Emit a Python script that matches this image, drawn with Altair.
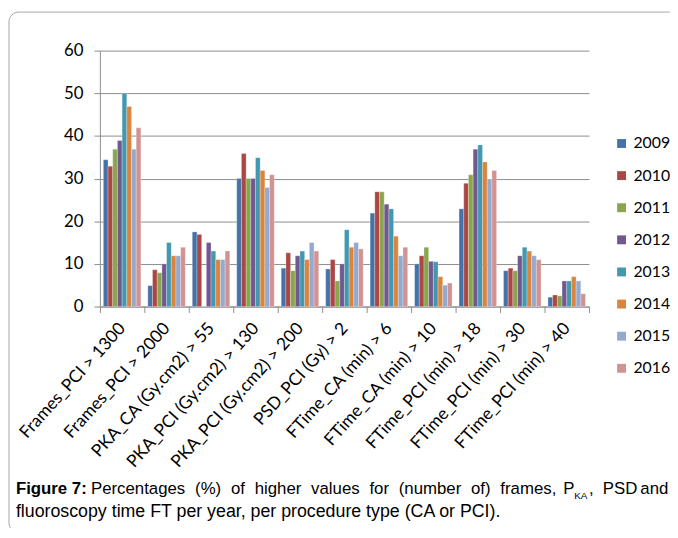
import altair as alt
import pandas as pd

categories = [
    "Frames_PCI > 1300", "Frames_PCI > 2000", "PKA_CA (Gy.cm2) > 55",
    "PKA_PCI (Gy.cm2) > 130", "PKA_PCI (Gy.cm2) > 200", "PSD_PCI (Gy) > 2",
    "FTime_CA (min) > 6", "FTime_CA (min) > 10", "FTime_PCI (min) > 18",
    "FTime_PCI (min) > 30", "FTime_PCI (min) > 40",
]
years = ["2009", "2010", "2011", "2012", "2013", "2014", "2015", "2016"]

v2009 = [34.4, 4.9, 17.5, 30.0, 9.0, 8.8, 21.9, 10.0, 22.9, 8.4, 2.2]
v2010 = [32.9, 8.6, 16.9, 35.9, 12.6, 11.0, 26.9, 11.9, 28.9, 9.0, 2.7]
v2011 = [36.9, 7.9, 0.0, 30.0, 8.4, 6.0, 26.9, 13.9, 30.9, 8.4, 2.5]
v2012 = [38.9, 10.0, 15.0, 30.0, 11.9, 10.0, 24.0, 10.6, 36.9, 11.9, 6.0]
v2013 = [50.0, 15.0, 13.0, 34.9, 13.0, 18.0, 22.9, 10.5, 37.9, 13.9, 6.0]
v2014 = [46.9, 11.9, 11.0, 31.9, 11.0, 13.9, 16.5, 7.0, 33.9, 13.0, 7.0]
v2015 = [36.9, 11.9, 11.0, 27.9, 15.0, 15.0, 11.9, 5.0, 29.9, 11.9, 6.0]
v2016 = [41.9, 13.9, 13.0, 30.9, 13.0, 13.5, 13.9, 5.5, 31.9, 11.0, 3.0]
series = [v2009, v2010, v2011, v2012, v2013, v2014, v2015, v2016]

colors = ["#4572A7", "#AA4643", "#89A54E", "#71588F",
          "#4198AF", "#DB843D", "#93A9CF", "#D19392"]

caption_bold = "Figure 7:"
caption_words1 = ["Percentages", "(%)", "of", "higher", "values", "for",
                  "(number", "of)", "frames,"]
caption_p = "P"
caption_sub = "KA"
caption_tail = [",", "PSD", "and"]
caption_line2 = "fluoroscopy time FT per year, per procedure type (CA or PCI)."

rows = []
for y, vals in zip(years, series):
    for c, v in zip(categories, vals):
        rows.append({"cat": c, "year": y, "value": v})
df = pd.DataFrame(rows)

W, H = 495, 259
GRAY = "#8c8c8c"
OX, OY = 101, 48  # page position of the plot origin (8px margin + padding)

# Arial / Liberation Sans advance widths (1/1000 em) for justifying line 1
AW = {"P": 667, "e": 556, "r": 333, "c": 500, "n": 556, "t": 278, "a": 556,
      "g": 556, "s": 500, "(": 333, "%": 889, ")": 333, "o": 556, "f": 278,
      "h": 556, "i": 222, "l": 222, "u": 556, "v": 500, "b": 556, "m": 833,
      ",": 278, " ": 278}


def width(word, size):
    return sum(AW.get(ch, 556) for ch in word) * size / 1000.0


def justify(words, x0, x1, size):
    total = sum(width(w, size) for w in words)
    gap = (x1 - x0 - total) / (len(words) - 1)
    xs, x = [], x0
    for w in words:
        xs.append(x)
        x += width(w, size) + gap
    return xs


bars = alt.Chart(df).mark_bar(stroke="white", strokeWidth=0.6, strokeOpacity=0.45).encode(
    x=alt.X("cat:N", sort=categories,
            scale=alt.Scale(paddingInner=0, paddingOuter=0),
            axis=alt.Axis(title=None, labelAngle=-48, labelAlign="right",
                          labelBaseline="middle", tickBand="extent", ticks=True,
                          tickSize=6, labelFont="Lato", labelFontSize=17.5,
                          labelColor="black", domainColor=GRAY, tickColor=GRAY,
                          labelPadding=13, grid=False, labelLimit=300)),
    xOffset=alt.XOffset("year:N", sort=years,
                        scale=alt.Scale(paddingOuter=0.74, paddingInner=0)),
    y=alt.Y("value:Q", scale=alt.Scale(domain=[0, 60], nice=False),
            axis=alt.Axis(title=None, values=[0, 10, 20, 30, 40, 50, 60],
                          tickSize=6, labelFont="Lato", labelFontSize=17,
                          labelColor="black", domainColor=GRAY, tickColor=GRAY,
                          gridColor=GRAY, gridWidth=1, labelPadding=11)),
    color=alt.Color("year:N", scale=alt.Scale(domain=years, range=colors),
                    legend=alt.Legend(title=None, orient="none", legendX=520,
                                      legendY=86, symbolType="square",
                                      symbolSize=81, symbolStrokeWidth=0,
                                      labelFont="Lato", labelFontSize=16,
                                      labelColor="black", rowPadding=16.5,
                                      labelOffset=4)),
)

border = alt.Chart(pd.DataFrame({"a": [0]})).mark_rect(
    fillOpacity=0, stroke="#a6a6a6", strokeWidth=1, cornerRadius=10
).encode(x=alt.value(9 - OX), x2=alt.value(700), y=alt.value(9 - OY),
         y2=alt.value(536 - OY))


def txt(s, x, y, size=17, weight="normal"):
    return alt.Chart(pd.DataFrame({"t": [s]})).mark_text(
        align="left", baseline="alphabetic", font="Liberation Sans",
        fontSize=size, fontWeight=weight, color="black"
    ).encode(text="t:N", x=alt.value(x - OX), y=alt.value(y - OY))


B1, B2 = 497, 520
caption = [txt(caption_bold, 16, B1, size=17, weight="bold")]
for w, x in zip(caption_words1, justify(caption_words1, 92, 563, 17)):
    caption.append(txt(w, x, B1))
caption.append(txt(caption_p, 570, B1))
caption.append(txt(caption_sub, 581, B1 + 5, size=10))
for w, x in zip(caption_tail, [596, 610, 648]):
    caption.append(txt(w, x, B1))
caption.append(txt(caption_line2, 16, B2, size=18))

chart = alt.layer(border, bars, *caption).properties(
    width=W, height=H,
    padding={"left": OX - 8, "top": OY - 8, "right": 670 - W - (OX - 8),
             "bottom": 520 - H - (OY - 8)},
    autosize=alt.AutoSizeParams(type="none"),
).configure_view(strokeWidth=0)

chart.save("out.html", embed_options={"renderer": "svg", "actions": False})
